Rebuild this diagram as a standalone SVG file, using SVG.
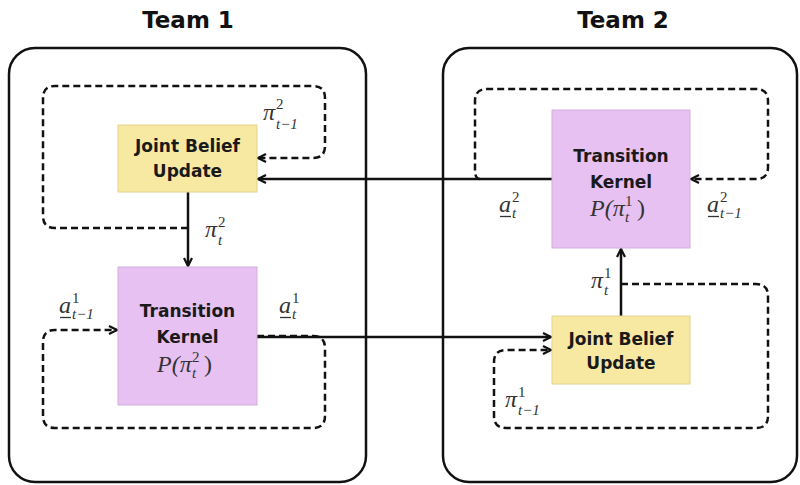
<svg xmlns="http://www.w3.org/2000/svg" width="800" height="485" viewBox="0 0 800 485">
<style>
.title{font-family:"DejaVu Sans","Liberation Sans",sans-serif;font-weight:bold;font-size:23px;fill:#111;text-anchor:middle}
.team{fill:none;stroke:#111;stroke-width:2.5}
.jbu{fill:#F8E9A2;stroke:#E3D38C;stroke-width:1}
.tk{fill:#E7C1F2;stroke:#D2AEDD;stroke-width:1}
.lbl{font-family:"DejaVu Sans","Liberation Sans",sans-serif;font-weight:bold;font-size:17px;fill:#1a1a1a;text-anchor:middle}
.math{font-family:"Liberation Serif","DejaVu Serif",serif;font-style:italic;fill:#333}
.big{font-size:24px}
.sm{font-size:15px}
.solid{fill:none;stroke:#111;stroke-width:2.5}
.dash{fill:none;stroke:#111;stroke-width:2.5;stroke-dasharray:7 4}
.ul{stroke:#333;stroke-width:1.3}
</style>
<defs>
<marker id="arr" markerWidth="12" markerHeight="12" refX="9" refY="5" orient="auto" markerUnits="userSpaceOnUse">
<path d="M1,1 L9,5 L1,9" fill="none" stroke="#111" stroke-width="2.2"/>
</marker>
</defs>
<text class="title" x="188" y="28">Team 1</text>
<text class="title" x="623" y="28">Team 2</text>
<rect class="team" x="9" y="48" width="357" height="434" rx="26"/>
<rect class="team" x="443" y="48" width="354" height="434" rx="26"/>

<g id="connectors">
<path class="dash" d="M188,228 H55 Q43,228 43,216 V98 Q43,86 55,86 H313 Q325,86 325,98 V146 Q325,158 313,158 H258" marker-end="url(#arr)"/>
<path class="solid" d="M552,179 H258" marker-end="url(#arr)"/>
<path class="solid" d="M188,192 V266" marker-end="url(#arr)"/>
<path class="dash" d="M257,336 H313 Q325,336 325,348 V416 Q325,428 313,428 H55 Q43,428 43,416 V342 Q43,330 55,330 H117" marker-end="url(#arr)"/>
<path class="solid" d="M257,337 H551" marker-end="url(#arr)"/>
<path class="dash" d="M480,179 Q475,179 475,170 V101 Q475,89 487,89 H756 Q768,89 768,101 V167 Q768,179 756,179 H691" marker-end="url(#arr)"/>
<path class="solid" d="M621,316 V249" marker-end="url(#arr)"/>
<path class="dash" d="M621,284 H756 Q768,284 768,296 V416 Q768,428 756,428 H506 Q494,428 494,416 V362 Q494,350 506,350 H551" marker-end="url(#arr)"/>
</g>

<g id="t1-jbu">
<rect class="jbu" x="118" y="125" width="139" height="67"/>
<text class="lbl" x="187.5" y="152">Joint Belief</text>
<text class="lbl" x="187.5" y="177">Update</text>
</g>
<g id="t1-tk">
<rect class="tk" x="118" y="267" width="139" height="138"/>
<text class="lbl" x="187.5" y="317">Transition</text>
<text class="lbl" x="187.5" y="343">Kernel</text>
<text class="math big" x="157" y="372">P(π<tspan class="sm" x="192" y="362" font-style="normal">2</tspan><tspan class="sm" x="192" y="378">t</tspan><tspan x="204" y="372" font-style="normal">)</tspan></text>
</g>
<g id="t2-tk">
<rect class="tk" x="552" y="110" width="138" height="138"/>
<text class="lbl" x="621" y="162">Transition</text>
<text class="lbl" x="621" y="188">Kernel</text>
<text class="math big" x="590" y="216">P(π<tspan class="sm" x="625" y="206" font-style="normal">1</tspan><tspan class="sm" x="625" y="222">t</tspan><tspan x="637" y="216" font-style="normal">)</tspan></text>
</g>
<g id="t2-jbu">
<rect class="jbu" x="552" y="316" width="138" height="68"/>
<text class="lbl" x="621" y="345">Joint Belief</text>
<text class="lbl" x="621" y="369">Update</text>
</g>

<g id="labels">
<text class="math big" x="263" y="120">π<tspan class="sm" x="276" y="109" font-style="normal">2</tspan><tspan class="sm" x="276" y="129">t−1</tspan></text>
<text class="math big" x="205" y="237">π<tspan class="sm" x="218" y="227" font-style="normal">2</tspan><tspan class="sm" x="218" y="245">t</tspan></text>
<text class="math big" x="59" y="313">a<tspan class="sm" x="72" y="303" font-style="normal">1</tspan><tspan class="sm" x="72" y="319">t−1</tspan></text>
<line class="ul" x1="60" y1="317.5" x2="71" y2="317.5"/>
<text class="math big" x="279" y="313">a<tspan class="sm" x="292" y="303" font-style="normal">1</tspan><tspan class="sm" x="292" y="319">t</tspan></text>
<line class="ul" x1="280" y1="317.5" x2="291" y2="317.5"/>
<text class="math big" x="499" y="212">a<tspan class="sm" x="512" y="202" font-style="normal">2</tspan><tspan class="sm" x="512" y="218">t</tspan></text>
<line class="ul" x1="500" y1="216.5" x2="511" y2="216.5"/>
<text class="math big" x="707" y="212">a<tspan class="sm" x="720" y="202" font-style="normal">2</tspan><tspan class="sm" x="720" y="218">t−1</tspan></text>
<line class="ul" x1="708" y1="216.5" x2="719" y2="216.5"/>
<text class="math big" x="591" y="288">π<tspan class="sm" x="604" y="278" font-style="normal">1</tspan><tspan class="sm" x="604" y="295">t</tspan></text>
<text class="math big" x="505" y="407">π<tspan class="sm" x="518" y="397" font-style="normal">1</tspan><tspan class="sm" x="518" y="415">t−1</tspan></text>
</g>
</svg>
